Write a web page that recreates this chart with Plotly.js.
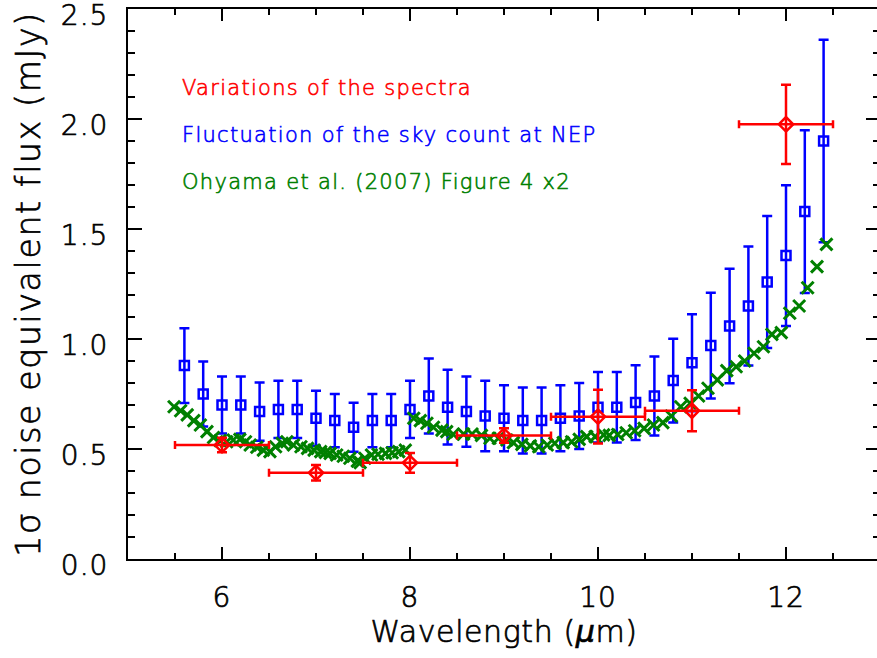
<!DOCTYPE html>
<html>
<head>
<meta charset="utf-8">
<script src="https://cdn.plot.ly/plotly-3.0.1.min.js"></script>
<style>
html, body { margin: 0; padding: 0; overflow: hidden; background: #fff; }
#chart { width: 881px; height: 658px; }
.ytitle { letter-spacing: 1.7px; }
.xtitle { letter-spacing: 0.6px; }
.annotation-text { letter-spacing: 1.3px; }
.xtick text, .ytick text { letter-spacing: 1px; }
#chart .xtick text, #chart .ytick text, #chart .xtitle, #chart .ytitle { stroke: #000; stroke-width: 0.7px; }
#chart .annotation[data-index="0"] text { stroke: #ff0000; stroke-width: 0.6px; }
#chart .annotation[data-index="1"] text { stroke: #0000ff; stroke-width: 0.6px; }
#chart .annotation[data-index="2"] text { stroke: #008000; stroke-width: 0.6px; }
</style>
</head>
<body>
<div id="chart"></div>
<script>
// Fluctuation of the sky count at NEP (blue squares)
var blueX = [5.6, 5.8, 6.0, 6.2, 6.4, 6.6, 6.8, 7.0, 7.2, 7.4, 7.6, 7.8, 8.0, 8.2, 8.4, 8.6, 8.8, 9.0,
             9.2, 9.4, 9.6, 9.8, 10.0, 10.2, 10.4, 10.6, 10.8, 11.0, 11.2, 11.4, 11.6, 11.8, 12.0, 12.2, 12.4];
var blueY = [0.879, 0.750, 0.700, 0.700, 0.670, 0.680, 0.680, 0.640, 0.629, 0.599, 0.629, 0.629, 0.680,
             0.741, 0.690, 0.670, 0.650, 0.640, 0.629, 0.629, 0.640, 0.650, 0.690, 0.690, 0.711, 0.741,
             0.811, 0.892, 0.970, 1.059, 1.150, 1.259, 1.379, 1.579, 1.900];
var blueErr = [0.170, 0.148, 0.130, 0.130, 0.132, 0.130, 0.130, 0.125, 0.121, 0.111, 0.121, 0.121, 0.130,
               0.170, 0.170, 0.160, 0.160, 0.150, 0.150, 0.150, 0.150, 0.150, 0.160, 0.160, 0.170, 0.180,
               0.190, 0.220, 0.240, 0.260, 0.270, 0.300, 0.320, 0.370, 0.460];

// Variations of the spectra (red diamonds)
var redX = [6, 7, 8, 9, 10, 11, 12];
var redY = [0.518, 0.392, 0.437, 0.561, 0.647, 0.674, 1.976];
var redYErr = [0.033, 0.035, 0.045, 0.033, 0.122, 0.093, 0.180];
var redXErr = [0.5, 0.5, 0.5, 0.5, 0.5, 0.5, 0.5];

// Ohyama et al. (2007) Figure 4 x2 (green crosses)
var greenX = [5.49, 5.56, 5.63, 5.70, 5.77, 5.84, 5.91, 5.98, 6.05, 6.12, 6.19, 6.25, 6.30, 6.37, 6.44, 6.51,
              6.57, 6.64, 6.69, 6.76, 6.84, 6.91, 6.98, 7.05, 7.10, 7.15, 7.22, 7.29, 7.36, 7.44, 7.47, 7.52,
              7.59, 7.66, 7.74, 7.81, 7.88, 7.95,
              8.04, 8.11, 8.18, 8.25, 8.34, 8.39, 8.46, 8.57, 8.66, 8.76, 8.85, 8.94, 9.03, 9.10, 9.19, 9.28,
              9.37, 9.46, 9.54, 9.63, 9.72, 9.80, 9.88, 9.97, 10.06, 10.12, 10.21, 10.30, 10.39, 10.49, 10.59,
              10.69, 10.78, 10.88, 10.98, 11.07, 11.17, 11.27, 11.37, 11.47, 11.56, 11.66, 11.76, 11.85,
              11.95, 12.04, 12.14, 12.23, 12.33, 12.43];
var greenY = [0.692, 0.674, 0.655, 0.629, 0.609, 0.579, 0.552, 0.538, 0.533, 0.541, 0.544, 0.533, 0.518, 0.508,
              0.495, 0.488, 0.510, 0.526, 0.533, 0.518, 0.510, 0.503, 0.495, 0.488, 0.484, 0.480, 0.473, 0.467,
              0.458, 0.445, 0.438, 0.458, 0.473, 0.476, 0.480, 0.483, 0.488, 0.495,
              0.640, 0.629, 0.617, 0.599, 0.586, 0.579, 0.567, 0.568, 0.568, 0.562, 0.549, 0.549, 0.541, 0.529,
              0.521, 0.514, 0.510, 0.518, 0.526, 0.529, 0.533, 0.544, 0.556, 0.556, 0.564, 0.562, 0.566, 0.574,
              0.583, 0.594, 0.609, 0.620, 0.650, 0.692, 0.708, 0.741, 0.776, 0.814, 0.856, 0.874, 0.900,
              0.935, 0.965, 1.021, 1.029, 1.117, 1.150, 1.233, 1.329, 1.430];

var xTickVals = [6, 8, 10, 12];
var yTickVals = [0.0, 0.5, 1.0, 1.5, 2.0, 2.5];
var yTickText = ['0.0', '0.5', '1.0', '1.5', '2.0', '2.5'];
var legendTexts = ['Variations of the spectra', 'Fluctuation of the sky count at NEP', 'Ohyama et al. (2007) Figure 4 x2'];

var RED = '#ff0000', BLUE = '#0000ff', GREEN = '#008000';
var FONT = '"DejaVu Sans", "Liberation Sans", sans-serif';
var W = 200;

var traces = [
  {
    x: blueX, y: blueY, type: 'scatter', mode: 'markers',
    marker: {symbol: 'square-open', size: 9, color: BLUE, line: {color: BLUE, width: 2.5}},
    error_y: {type: 'data', array: blueErr, visible: true, color: BLUE, thickness: 2.5, width: 5},
    hoverinfo: 'x+y'
  },
  {
    x: greenX, y: greenY, type: 'scatter', mode: 'markers',
    marker: {symbol: 'x-thin-open', size: 12, color: GREEN, line: {color: GREEN, width: 3}},
    hoverinfo: 'x+y'
  },
  {
    x: redX, y: redY, type: 'scatter', mode: 'markers',
    marker: {symbol: 'diamond-open', size: 11, color: RED, line: {color: RED, width: 2.5}},
    error_y: {type: 'data', array: redYErr, visible: true, color: RED, thickness: 2.5, width: 5},
    error_x: {type: 'data', array: redXErr, visible: true, color: RED, thickness: 2.5, width: 4},
    hoverinfo: 'x+y'
  }
];

var legColors = [RED, BLUE, GREEN];
var legY = [0.856, 0.771, 0.686];
var annotations = legendTexts.map(function (t, i) {
  return {
    text: t, xref: 'paper', yref: 'paper', x: 0.069, y: legY[i],
    xanchor: 'left', yanchor: 'middle', showarrow: false,
    font: {family: FONT, size: 21, weight: W, color: legColors[i]}
  };
});

var layout = {
  width: 881, height: 658,
  margin: {l: 128, r: 1, t: 9, b: 99, pad: 0},
  paper_bgcolor: '#ffffff', plot_bgcolor: '#ffffff',
  showlegend: false,
  font: {family: FONT, color: '#000'},
  xaxis: {
    range: [5, 13], tickvals: xTickVals, ticktext: xTickVals.map(String),
    ticks: 'inside', ticklen: 12, tickwidth: 2, tickcolor: '#000',
    showline: true, linewidth: 2, linecolor: '#000', mirror: 'ticks',
    showgrid: false, zeroline: false,
    minor: {dtick: 0.5, tick0: 0, ticks: 'inside', ticklen: 6, tickwidth: 1.5, tickcolor: '#000', showgrid: false},
    tickfont: {family: FONT, size: 28, weight: W, color: '#000'},
    ticklabelstandoff: 12,
    title: {text: 'Wavelength (<i>μ</i>m)', font: {family: FONT, size: 30, weight: W, color: '#000'}, standoff: 8}
  },
  yaxis: {
    range: [0, 2.5], tickvals: yTickVals, ticktext: yTickText,
    ticks: 'inside', ticklen: 14, tickwidth: 2, tickcolor: '#000',
    showline: true, linewidth: 2, linecolor: '#000', mirror: 'ticks',
    showgrid: false, zeroline: false,
    minor: {dtick: 0.1, tick0: 0, ticks: 'inside', ticklen: 7, tickwidth: 1.5, tickcolor: '#000', showgrid: false},
    tickfont: {family: FONT, size: 28, weight: W, color: '#000'},
    ticklabelstandoff: 12,
    ticklabelshift: 6,
    ticklabeloverflow: 'allow',
    title: {text: '1σ noise equivalent flux (mJy)', font: {family: FONT, size: 33, weight: W, color: '#000'}, standoff: 10}
  },
  annotations: annotations
};

Plotly.newPlot('chart', traces, layout, {displayModeBar: false, staticPlot: true});
</script>
</body>
</html>
